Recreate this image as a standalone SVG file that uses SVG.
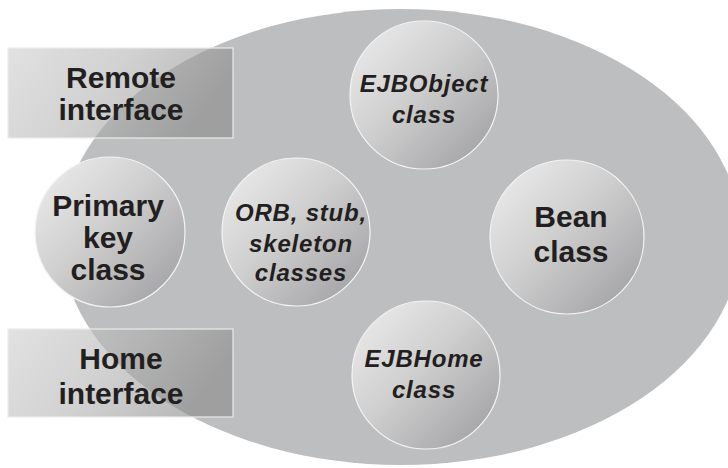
<svg xmlns="http://www.w3.org/2000/svg" width="728" height="468" viewBox="0 0 728 468">
  <defs>
    <linearGradient id="circGrad" x1="0" y1="0" x2="1" y2="1">
      <stop offset="0" stop-color="#efefef"/>
      <stop offset="0.45" stop-color="#cfcfd0"/>
      <stop offset="0.85" stop-color="#a9a9ab"/>
      <stop offset="1" stop-color="#b4b4b6"/>
    </linearGradient>
    <linearGradient id="boxGrad" x1="0" y1="0" x2="1" y2="0.3">
      <stop offset="0" stop-color="#d2d2d2" stop-opacity="0.65"/>
      <stop offset="0.5" stop-color="#b4b4b4" stop-opacity="0.6"/>
      <stop offset="1" stop-color="#8a8a8a" stop-opacity="0.6"/>
    </linearGradient>
    <style>
      .box { fill: url(#boxGrad); stroke: #ececec; stroke-width: 1.2; }
      .circ { fill: url(#circGrad); stroke: #f4f4f4; stroke-width: 1.2; }
      .bold { font-family: "Liberation Sans", Arial, sans-serif; font-weight: bold; font-size: 30px; fill: #231f20; text-anchor: middle; }
      .ital { font-family: "Liberation Sans", Arial, sans-serif; font-weight: bold; font-style: italic; font-size: 24px; letter-spacing: 0.8px; fill: #231f20; text-anchor: middle; }
    </style>
  </defs>
  <rect width="728" height="468" fill="#ffffff"/>
  <g id="container">
    <ellipse cx="401" cy="237" rx="340" ry="228" fill="#bdbec0"/>
  </g>
  <g id="remote-interface">
    <rect class="box" x="8" y="48" width="225" height="90"/>
    <text class="bold" x="121" y="88">Remote</text>
    <text class="bold" x="121" y="120">interface</text>
  </g>
  <g id="home-interface">
    <rect class="box" x="8" y="329" width="225" height="88"/>
    <text class="bold" x="121" y="369">Home</text>
    <text class="bold" x="121" y="404">interface</text>
  </g>
  <g id="ejbobject-class">
    <circle class="circ" cx="424" cy="95" r="74"/>
    <text class="ital" x="424" y="92">EJBObject</text>
    <text class="ital" x="424" y="123">class</text>
  </g>
  <g id="primary-key-class">
    <circle class="circ" cx="110" cy="232" r="75"/>
    <text class="bold" x="108" y="216">Primary</text>
    <text class="bold" x="108" y="248">key</text>
    <text class="bold" x="108" y="280">class</text>
  </g>
  <g id="orb-stub-skeleton-classes">
    <circle class="circ" cx="296" cy="232" r="74"/>
    <text class="ital" x="301" y="221">ORB, stub,</text>
    <text class="ital" x="301" y="252">skeleton</text>
    <text class="ital" x="301" y="281">classes</text>
  </g>
  <g id="bean-class">
    <circle class="circ" cx="567" cy="237" r="77"/>
    <text class="bold" x="571" y="227">Bean</text>
    <text class="bold" x="571" y="262">class</text>
  </g>
  <g id="ejbhome-class">
    <circle class="circ" cx="426" cy="375" r="74"/>
    <text class="ital" x="424" y="367">EJBHome</text>
    <text class="ital" x="424" y="398">class</text>
  </g>
  <g id="connectors"/>
</svg>
